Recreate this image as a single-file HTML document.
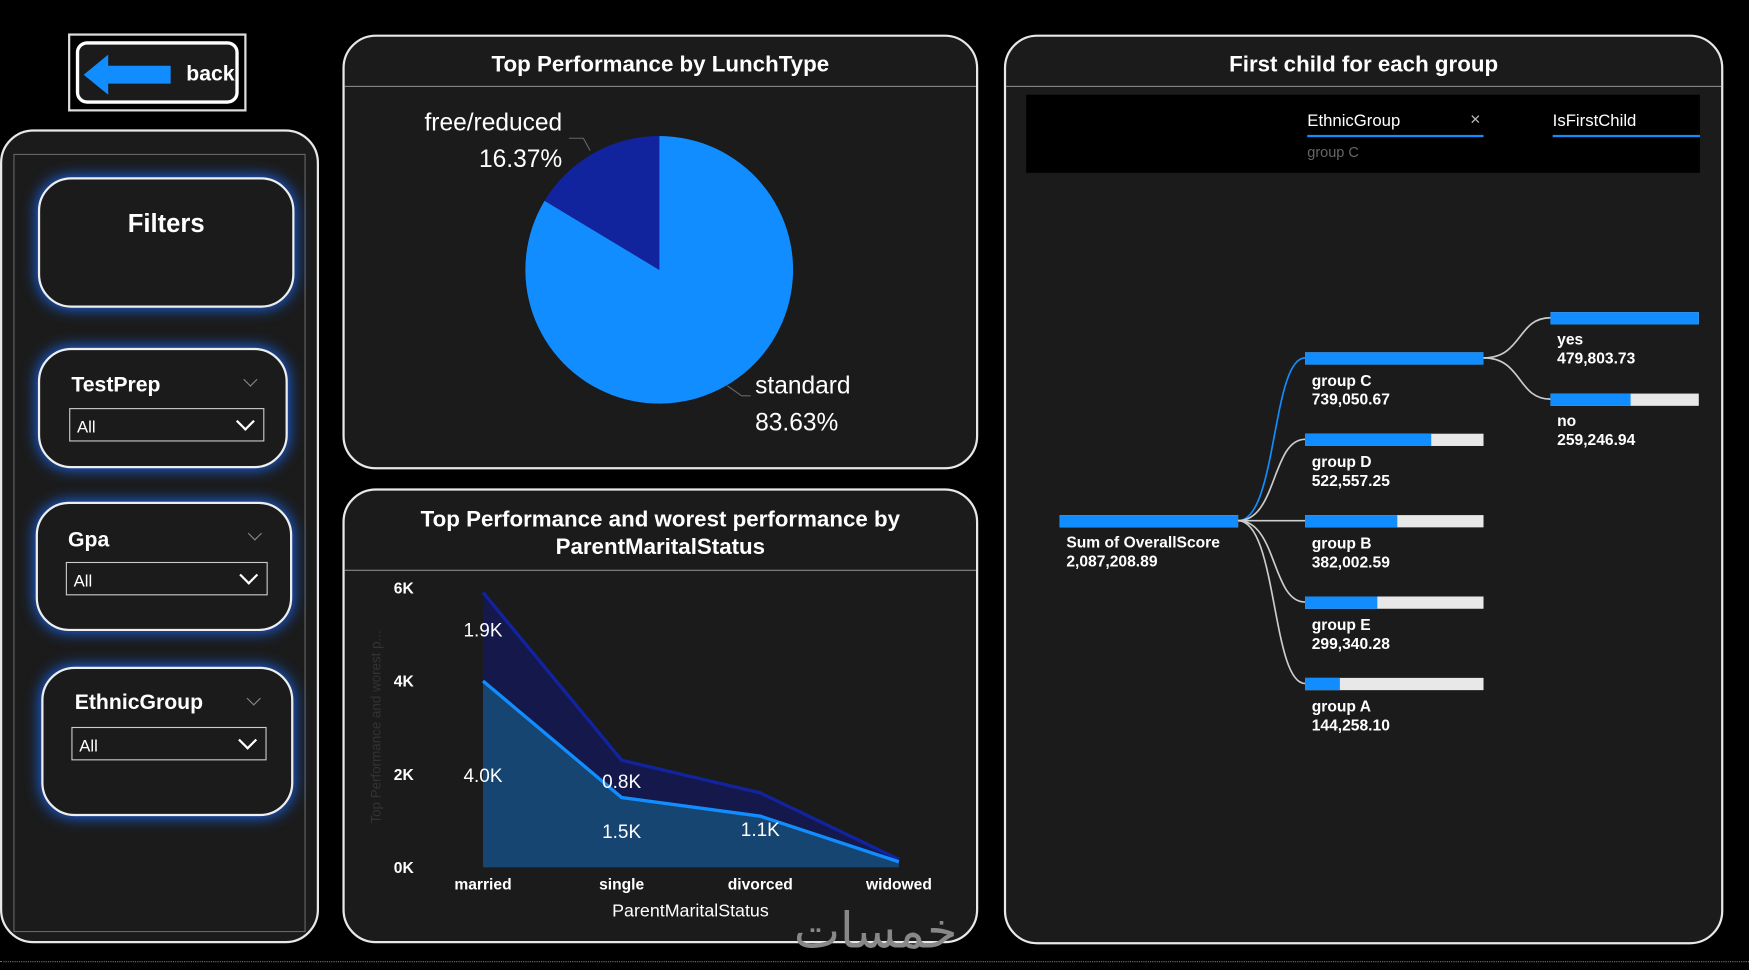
<!DOCTYPE html>
<html><head><meta charset="utf-8">
<style>
html,body{margin:0;padding:0;background:#000;width:1749px;height:970px;overflow:hidden}
#wrap{position:absolute;left:0;top:0;width:1568px;height:870px;transform:scale(1.11543,1.11494);transform-origin:0 0;font-family:"Liberation Sans",sans-serif;color:#fff}
.panel{position:absolute;background:#1b1b1b;border:2px solid #e8e8e8;border-radius:30px;box-sizing:border-box}
.title{position:absolute;left:0;right:0;text-align:center;font-weight:bold;font-size:20px}
.hr{position:absolute;left:0;right:0;height:1px;background:#888}
.fbox{position:absolute;border:2px solid #eee;border-radius:30px;box-shadow:0 0 14px #1a6cff;background:#1b1b1b;box-sizing:border-box}
.sel{position:absolute;border:1px solid #ccc;height:30px;box-sizing:border-box;font-size:15px;padding:8px 6px 0}
.sel::after{content:"";position:absolute;right:10px;top:5px;width:10px;height:10px;border-right:2px solid #fff;border-bottom:2px solid #fff;transform:rotate(45deg)}
.lbl{position:absolute;font-weight:bold;font-size:19px}
.chev{position:absolute;width:8px;height:8px;border-right:1px solid #888;border-bottom:1px solid #888;transform:rotate(45deg)}
</style></head><body>
<div id="wrap">
 <div style="position:absolute;left:61px;top:30px;width:160px;height:70px;border:2px solid #ddd;box-sizing:border-box;">
  <div style="position:absolute;left:5px;top:5px;right:5px;bottom:5px;border:3px solid #fff;border-radius:10px;background:#1b1b1b"></div>
  <svg style="position:absolute;left:12px;top:17px" width="80" height="36"><polygon points="0,18 22,0 22,10 78,10 78,26 22,26 22,36" fill="#118dff"/></svg>
  <div style="position:absolute;left:104px;top:24px;font-weight:bold;font-size:19px">back</div>
 </div>
 <div class="panel" style="left:0;top:116px;width:286px;height:730px;border-radius:30px">
  <div style="position:absolute;left:10px;top:20px;width:260px;height:696px;border:1px solid #666"></div>
 </div>
 <div class="fbox" style="left:34px;top:159px;width:230px;height:117px"><div style="position:absolute;left:0;right:0;top:26px;text-align:center;font-weight:bold;font-size:23px">Filters</div></div>
 <div class="fbox" style="left:34px;top:312px;width:224px;height:108px">
  <div class="lbl" style="left:28px;top:21px">TestPrep</div><div class="chev" style="left:184px;top:22px"></div>
  <div class="sel" style="left:26px;top:52px;width:175px">All</div></div>
 <div class="fbox" style="left:32px;top:450px;width:230px;height:116px">
  <div class="lbl" style="left:27px;top:22px">Gpa</div><div class="chev" style="left:190px;top:22px"></div>
  <div class="sel" style="left:25px;top:52px;width:181px">All</div></div>
 <div class="fbox" style="left:37px;top:598px;width:226px;height:134px">
  <div class="lbl" style="left:28px;top:20px">EthnicGroup</div><div class="chev" style="left:184px;top:22px"></div>
  <div class="sel" style="left:25px;top:52px;width:175px">All</div></div>

 <div class="panel" style="left:307px;top:31px;width:570px;height:390px">
  <div class="title" style="top:14px">Top Performance by LunchType</div><div class="hr" style="top:44px"></div>
 </div>
 <svg id="pie" style="position:absolute;left:307px;top:31px" width="570" height="390"></svg>

 <div class="panel" style="left:307px;top:438px;width:570px;height:408px">
  <div class="title" style="top:14px;line-height:25px">Top Performance and worest performance by<br>ParentMaritalStatus</div><div class="hr" style="top:71px"></div>
 </div>
 <svg id="area" style="position:absolute;left:0;top:0" width="900" height="870"></svg>

 <div class="panel" style="left:900px;top:31px;width:645px;height:816px">
  <div class="title" style="top:14px">First child for each group</div><div class="hr" style="top:44px"></div>
  <div style="position:absolute;left:18px;top:52px;width:604px;height:70px;background:#000">
   <div style="position:absolute;left:252px;top:15px;font-size:15px">EthnicGroup</div>
   <div style="position:absolute;left:252px;top:36px;width:158px;height:2px;background:#118dff"></div>
   <div style="position:absolute;left:398px;top:14px;font-size:16px;color:#bbb">×</div>
   <div style="position:absolute;left:252px;top:44px;font-size:13px;color:#666">group C</div>
   <div style="position:absolute;left:472px;top:15px;font-size:15px">IsFirstChild</div>
   <div style="position:absolute;left:472px;top:36px;width:132px;height:2px;background:#118dff"></div>
  </div>
 </div>
 <svg id="tree" style="position:absolute;left:0;top:0" width="1568" height="870"></svg>
 <div style="position:absolute;left:0;top:862px;width:1568px;border-top:1px dotted #777"></div>
</div>
<script>
const NS="http://www.w3.org/2000/svg";
function mk(p,t,a){const e=document.createElementNS(NS,t);for(const k in a)e.setAttribute(k,a[k]);p.appendChild(e);return e;}
// PIE
const pieLabels=["standard","free/reduced"];
const pieValues=[83.63,16.37];
const pieColors=["#118dff","#12239e"];
const pie=document.getElementById('pie');
{const cx=284,cy=211,r=120;let a0=0;const tot=pieValues.reduce((a,b)=>a+b,0);
 pieValues.forEach((v,i)=>{const a1=a0+v/tot*2*Math.PI;
  const x0=cx+r*Math.sin(a0),y0=cy-r*Math.cos(a0),x1=cx+r*Math.sin(a1),y1=cy-r*Math.cos(a1);
  const s=mk(pie,'path',{d:`M${cx},${cy}L${x0},${y0}A${r},${r} 0 ${a1-a0>Math.PI?1:0} 1 ${x1},${y1}Z`,fill:pieColors[i]});
  
  
  a0=a1;});
 const t1=mk(pie,'text',{x:197,y:86,fill:'#fff','font-size':22,'text-anchor':'end'});t1.textContent=pieLabels[1];
 const t2=mk(pie,'text',{x:197,y:119,fill:'#fff','font-size':22,'text-anchor':'end'});t2.textContent=pieValues[1].toFixed(2)+'%';
 const t3=mk(pie,'text',{x:370,y:322,fill:'#fff','font-size':22});t3.textContent=pieLabels[0];
 const t4=mk(pie,'text',{x:370,y:355,fill:'#fff','font-size':22});t4.textContent=pieValues[0].toFixed(2)+'%';
 mk(pie,'polyline',{points:'203,93 216,93 222,104',stroke:'#666',fill:'none'});
 mk(pie,'polyline',{points:'345,315 358,324 366,324',stroke:'#666',fill:'none'});
}
// AREA
const cats=["married","single","divorced","widowed"];
const worst=[4.0,1.5,1.1,0.12];
const topPerf=[1.9,0.8,0.5,0.05];
const yTicks=[0,2,4,6];
const area=document.getElementById('area');
const X=i=>433+i*124.3, Y=v=>778-v*41.8;
{const tot=worst.map((w,i)=>w+topPerf[i]);
 let d='M'+X(0)+','+Y(0);tot.forEach((v,i)=>d+='L'+X(i)+','+Y(v));d+='L'+X(3)+','+Y(0)+'Z';
 const a1=mk(area,'path',{d,fill:'#14184a'});
 let d2='M'+X(0)+','+Y(0);worst.forEach((v,i)=>d2+='L'+X(i)+','+Y(v));d2+='L'+X(3)+','+Y(0)+'Z';
 const a2=mk(area,'path',{d:d2,fill:'#154570'});
 const l1=mk(area,'polyline',{points:tot.map((v,i)=>X(i)+','+Y(v)).join(' '),stroke:'#12239e',fill:'none','stroke-width':3});
 const l2=mk(area,'polyline',{points:worst.map((v,i)=>X(i)+','+Y(v)).join(' '),stroke:'#118dff',fill:'none','stroke-width':3});
 yTicks.forEach(t=>{const e=mk(area,'text',{x:362,y:Y(t)+5,fill:'#fff','font-size':14,'font-weight':'bold','text-anchor':'middle'});e.textContent=t+'K';});
 cats.forEach((c,i)=>{const e=mk(area,'text',{x:X(i),y:798,fill:'#fff','font-size':14,'font-weight':'bold','text-anchor':'middle'});e.textContent=c;});
 [0,1].forEach(i=>{const e=mk(area,'text',{x:X(i),y:(Y(tot[i])+Y(worst[i]))/2+(i==0?0:8),fill:'#fff','font-size':17,'text-anchor':'middle'});e.textContent=topPerf[i].toFixed(1)+'K';});
 [0,1,2].forEach(i=>{const e=mk(area,'text',{x:X(i),y:i==0?Y(2)+7:Y(worst[i]/2)+5+(i==2?-10:0),fill:'#fff','font-size':17,'text-anchor':'middle'});e.textContent=worst[i].toFixed(1)+'K';});
 const xt=mk(area,'text',{x:619,y:822,fill:'#fff','font-size':16,'text-anchor':'middle'});xt.textContent='ParentMaritalStatus';
 const yt=mk(area,'text',{x:0,y:0,fill:'#333','font-size':12,'text-anchor':'middle',transform:'translate(341,652) rotate(-90)'});yt.textContent='Top Performance and worest p...';
 const w=mk(area,'text',{x:785,y:850,fill:'#888','font-size':44,'text-anchor':'middle','font-family':'DejaVu Sans'});w.textContent='خمسات';
}
// TREE
const groups=["group C","group D","group B","group E","group A"];
const groupVals=[739050.67,522557.25,382002.59,299340.28,144258.10];
const childLabels=["yes","no"];
const childVals=[479803.73,259246.94];
const rootVal=2087208.89;
const tree=document.getElementById('tree');
const fmt=v=>v.toLocaleString('en-US',{minimumFractionDigits:2,maximumFractionDigits:2});
function bar(x,y,w,frac,name){mk(tree,'rect',{x,y,width:w,height:11,fill:'#e8e8e8'});const r=mk(tree,'rect',{x,y,width:w*frac,height:11,fill:'#118dff'});}
function lab(x,y,a,b){const t=mk(tree,'text',{x,y,fill:'#fff','font-size':14,'font-weight':'bold'});t.textContent=a;const t2=mk(tree,'text',{x,y:y+17,fill:'#fff','font-size':14,'font-weight':'bold'});t2.textContent=b;}
bar(950,462,160,1,'root-bar');lab(956,491,'Sum of OverallScore',fmt(rootVal));
const gmax=Math.max(...groupVals);
groups.forEach((g,i)=>{const y=316+i*73;
 mk(tree,'path',{d:`M1110,467 C1145,467 1140,${y+5} 1170,${y+5}`,stroke:i==0?'#118dff':'#ccc',fill:'none','stroke-width':1.5});
 bar(1170,y,160,groupVals[i]/gmax,'group-bar-'+i);lab(1176,y+30,g,fmt(groupVals[i]));});
const cmax=Math.max(...childVals);
childLabels.forEach((c,i)=>{const y=280+i*73;
 mk(tree,'path',{d:`M1330,321 C1365,321 1360,${y+5} 1390,${y+5}`,stroke:'#ccc',fill:'none','stroke-width':1.5});
 bar(1390,y,133,childVals[i]/cmax,'child-bar-'+i);lab(1396,y+29,c,fmt(childVals[i]));});
</script>
</body></html>
